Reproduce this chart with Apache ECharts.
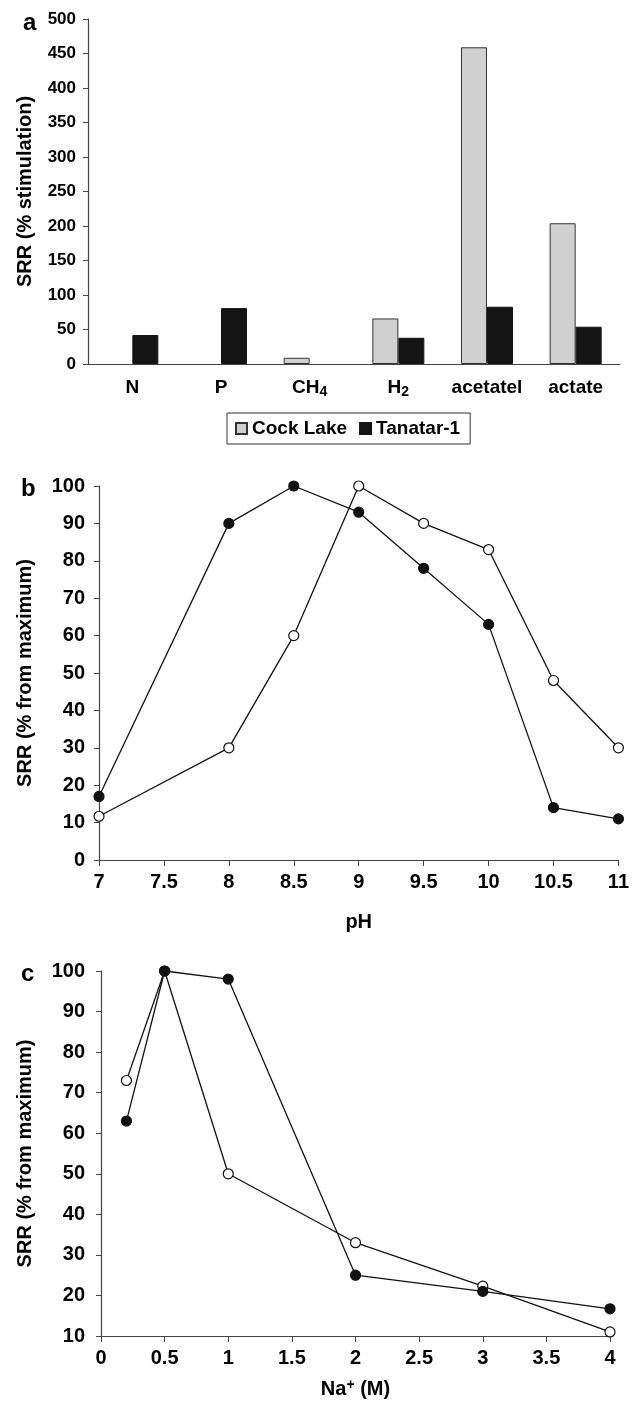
<!DOCTYPE html>
<html>
<head>
<meta charset="utf-8">
<script src="https://cdn.jsdelivr.net/npm/echarts@6/dist/echarts.min.js"></script>
<style>
  html, body { margin: 0; padding: 0; background: #fff; }
  #main { width: 632px; height: 1401px; }
</style>
</head>
<body>
<div id="main"></div>
<script>
// panel a: stimulation of SRR by substrates (null = no bar drawn)
const substrates = ['N', 'P', 'CH{sub|4}', 'H{sub|2}', 'acetatel', 'actate'];
const cockLake = [null, null, 9, 66, 459, 204];
const tanatar = [42, 81, null, 38, 83, 54];

// panel b: pH
const phFilledX = [7, 8, 8.5, 9, 9.5, 10, 10.5, 11];
const phFilled = [17, 90, 100, 93, 78, 63, 14, 11];
const phOpenX = [7, 8, 8.5, 9, 9.5, 10, 10.5, 11];
const phOpen = [11.7, 30, 60, 100, 90, 83, 48, 30];

// panel c: Na+
const naFilledX = [0.2, 0.5, 1, 2, 3, 4];
const naFilled = [63, 100, 98, 25, 21, 16.7];
const naOpenX = [0.2, 0.5, 1, 2, 3, 4];
const naOpen = [73, 100, 50, 33, 22.3, 11];

const FONT = '"Liberation Sans", Arial, sans-serif';
const axisCol = '#444';

function pairs(xs, ys) {
  return xs.map((x, i) => [x, ys[i]]);
}

function lineSeries(name, xi, xs, ys, filled) {
  return {
    name: name,
    type: 'line',
    xAxisIndex: xi,
    yAxisIndex: xi,
    data: pairs(xs, ys),
    symbol: 'circle',
    symbolSize: 10,
    lineStyle: { color: '#111', width: 1.3 },
    itemStyle: { color: filled ? '#111' : '#fff', borderColor: '#111', borderWidth: 1.2 },
    emphasis: { disabled: true },
    z: filled ? 4 : 3
  };
}

const yNameStyle = { fontFamily: FONT, fontWeight: 'bold', fontSize: 20, color: '#000' };
const labelStyle = (size, margin) => ({ fontFamily: FONT, fontWeight: 'bold', fontSize: size, color: '#000', margin: margin });

let myChart = echarts.init(document.getElementById('main'));

let option = {
  animation: false,
  backgroundColor: '#fff',
  title: [
    { text: 'a', left: 18, top: 6, textStyle: { fontFamily: FONT, fontWeight: 'bold', fontSize: 24, color: '#000' } },
    { text: 'b', left: 16, top: 472, textStyle: { fontFamily: FONT, fontWeight: 'bold', fontSize: 24, color: '#000' } },
    { text: 'c', left: 16, top: 957, textStyle: { fontFamily: FONT, fontWeight: 'bold', fontSize: 24, color: '#000' } }
  ],
  legend: {
    data: ['Cock Lake', 'Tanatar-1'],
    left: 227,
    top: 413,
    orient: 'horizontal',
    icon: 'rect',
    itemWidth: 11,
    itemHeight: 11,
    itemGap: 12,
    padding: [6, 10, 6, 8],
    borderColor: '#333',
    borderWidth: 1,
    selectedMode: false,
    textStyle: { fontFamily: FONT, fontWeight: 'bold', fontSize: 19, color: '#000' }
  },
  grid: [
    { left: 88, top: 19, width: 532, height: 345 },
    { left: 99, top: 486, width: 520, height: 374 },
    { left: 101, top: 971, width: 509, height: 367 }
  ],
  xAxis: [
    {
      gridIndex: 0,
      type: 'category',
      data: substrates,
      axisLine: { lineStyle: { color: axisCol, width: 1.2 } },
      axisTick: { length: 6, lineStyle: { color: axisCol } },
      axisLabel: Object.assign(labelStyle(19, 13), {
        interval: 0,
        lineHeight: 22,
        rich: { sub: { fontFamily: FONT, fontWeight: 'bold', fontSize: 14, lineHeight: 10, verticalAlign: 'bottom' } }
      })
    },
    {
      gridIndex: 1,
      type: 'value',
      min: 7, max: 11, interval: 0.5,
      name: 'pH',
      nameLocation: 'middle',
      nameGap: 52,
      nameTextStyle: yNameStyle,
      splitLine: { show: false },
      axisLine: { lineStyle: { color: axisCol, width: 1.2 } },
      axisTick: { length: 6, lineStyle: { color: axisCol } },
      axisLabel: labelStyle(20, 12)
    },
    {
      gridIndex: 2,
      type: 'value',
      min: 0, max: 4, interval: 0.5,
      name: 'Na{sup|+} (M)',
      nameLocation: 'middle',
      nameGap: 42,
      nameTextStyle: Object.assign({}, yNameStyle, {
        lineHeight: 22,
        rich: { sup: { fontFamily: FONT, fontWeight: 'bold', fontSize: 14, lineHeight: 10, verticalAlign: 'top' } }
      }),
      splitLine: { show: false },
      axisLine: { onZero: false, lineStyle: { color: axisCol, width: 1.2 } },
      axisTick: { length: 6, lineStyle: { color: axisCol } },
      axisLabel: labelStyle(20, 12)
    }
  ],
  yAxis: [
    {
      gridIndex: 0,
      type: 'value',
      min: 0, max: 500, interval: 50,
      name: 'SRR (% stimulation)',
      nameLocation: 'middle',
      nameGap: 53,
      nameTextStyle: yNameStyle,
      splitLine: { show: false },
      axisLine: { show: true, lineStyle: { color: axisCol, width: 1.2 } },
      axisTick: { show: true, length: 5, lineStyle: { color: axisCol } },
      axisLabel: labelStyle(17, 12)
    },
    {
      gridIndex: 1,
      type: 'value',
      min: 0, max: 100, interval: 10,
      name: 'SRR (% from maximum)',
      nameLocation: 'middle',
      nameGap: 64,
      nameTextStyle: yNameStyle,
      splitLine: { show: false },
      axisLine: { show: true, lineStyle: { color: axisCol, width: 1.2 } },
      axisTick: { show: true, length: 5, lineStyle: { color: axisCol } },
      axisLabel: labelStyle(20, 14)
    },
    {
      gridIndex: 2,
      type: 'value',
      min: 10, max: 100, interval: 10,
      name: 'SRR (% from maximum)',
      nameLocation: 'middle',
      nameGap: 66,
      nameTextStyle: yNameStyle,
      splitLine: { show: false },
      axisLine: { show: true, onZero: false, lineStyle: { color: axisCol, width: 1.2 } },
      axisTick: { show: true, length: 5, lineStyle: { color: axisCol } },
      axisLabel: labelStyle(20, 16)
    }
  ],
  series: [
    {
      name: 'Cock Lake',
      type: 'bar',
      xAxisIndex: 0,
      yAxisIndex: 0,
      data: cockLake,
      barWidth: 26,
      barGap: '0%',
      itemStyle: { color: '#d0d0d0', borderColor: '#333', borderWidth: 1 }
    },
    {
      name: 'Tanatar-1',
      type: 'bar',
      xAxisIndex: 0,
      yAxisIndex: 0,
      data: tanatar,
      barWidth: 26,
      barGap: '0%',
      itemStyle: { color: '#141414', borderColor: '#141414', borderWidth: 1 }
    },
    lineSeries('pH filled', 1, phFilledX, phFilled, true),
    lineSeries('pH open', 1, phOpenX, phOpen, false),
    lineSeries('Na filled', 2, naFilledX, naFilled, true),
    lineSeries('Na open', 2, naOpenX, naOpen, false)
  ]
};

myChart.setOption(option);
</script>
</body>
</html>
